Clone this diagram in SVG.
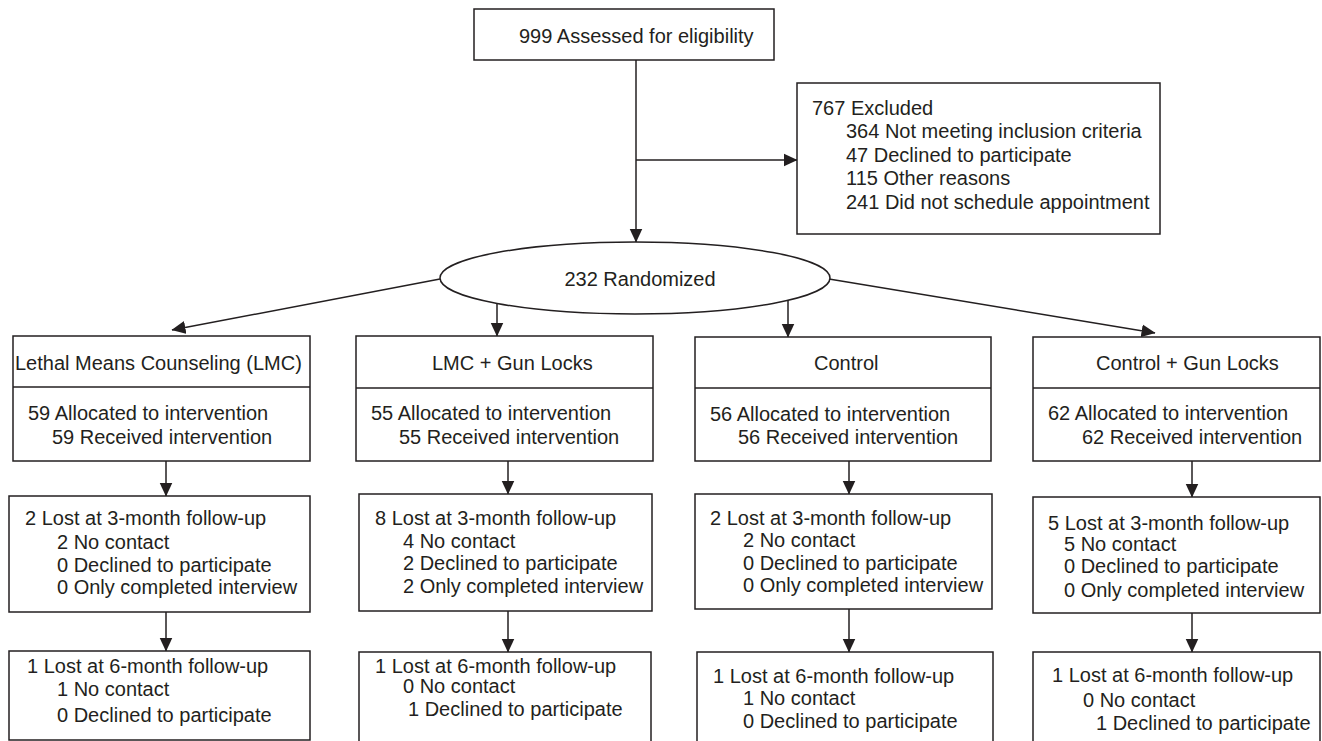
<svg xmlns="http://www.w3.org/2000/svg" width="1322" height="741" viewBox="0 0 1322 741">
<defs>
<style>
.b{fill:#fff;stroke:#231f20;stroke-width:1.5}
.c{fill:none;stroke:#231f20;stroke-width:1.5}
text{font-family:"Liberation Sans",Arial,sans-serif;font-size:20px;fill:#231f20}
.m{text-anchor:middle}
</style>
<marker id="ah" markerUnits="userSpaceOnUse" markerWidth="14" markerHeight="14" viewBox="0 0 14 14" refX="13.5" refY="7" orient="auto">
<path d="M0,0.5 L14,7 L0,13.5 z" fill="#231f20"/>
</marker>
</defs>
<rect width="1322" height="741" fill="#fff"/>
<g id="connectors">
<line class="c" x1="636" y1="60" x2="636" y2="242" marker-end="url(#ah)"/>
<line class="c" x1="636" y1="160" x2="797" y2="160" marker-end="url(#ah)"/>
<line class="c" x1="440" y1="279" x2="172" y2="330" marker-end="url(#ah)"/>
<line class="c" x1="497" y1="303" x2="497" y2="336" marker-end="url(#ah)"/>
<line class="c" x1="788" y1="300" x2="788" y2="337" marker-end="url(#ah)"/>
<line class="c" x1="829" y1="279" x2="1155" y2="333" marker-end="url(#ah)"/>
<line class="c" x1="166" y1="461" x2="166" y2="496" marker-end="url(#ah)"/>
<line class="c" x1="166" y1="612" x2="166" y2="651" marker-end="url(#ah)"/>
<line class="c" x1="508" y1="461" x2="508" y2="494" marker-end="url(#ah)"/>
<line class="c" x1="508" y1="611" x2="508" y2="652" marker-end="url(#ah)"/>
<line class="c" x1="849" y1="461" x2="849" y2="494" marker-end="url(#ah)"/>
<line class="c" x1="849" y1="609" x2="849" y2="652" marker-end="url(#ah)"/>
<line class="c" x1="1192" y1="461" x2="1192" y2="497" marker-end="url(#ah)"/>
<line class="c" x1="1192" y1="613" x2="1192" y2="652" marker-end="url(#ah)"/>
</g>
<g id="assessed">
<rect class="b" x="474" y="9" width="300" height="51"/>
<text x="519" y="43">999 Assessed for eligibility</text>
</g>
<g id="excluded">
<rect class="b" x="797" y="83" width="363" height="151"/>
<text x="812" y="115">767 Excluded</text>
<text x="846" y="138">364 Not meeting inclusion criteria</text>
<text x="846" y="162">47 Declined to participate</text>
<text x="846" y="185">115 Other reasons</text>
<text x="846" y="209">241 Did not schedule appointment</text>
</g>
<g id="randomized">
<ellipse class="b" cx="635" cy="278" rx="195" ry="36"/>
<text class="m" x="640" y="286">232 Randomized</text>
</g>
<g id="lmc">
<rect class="b" x="13" y="336" width="297" height="125"/>
<line class="c" x1="13" y1="387" x2="310" y2="387"/>
<text x="15" y="370">Lethal Means Counseling (LMC)</text>
<text x="28" y="420">59 Allocated to intervention</text>
<text x="52" y="444">59 Received intervention</text>
</g>
<g id="lmc-gun">
<rect class="b" x="356" y="336" width="297" height="125"/>
<line class="c" x1="356" y1="388" x2="653" y2="388"/>
<text x="432" y="370">LMC + Gun Locks</text>
<text x="371" y="420">55 Allocated to intervention</text>
<text x="399" y="444">55 Received intervention</text>
</g>
<g id="control">
<rect class="b" x="695" y="337" width="296" height="124"/>
<line class="c" x1="695" y1="388" x2="991" y2="388"/>
<text x="814" y="370">Control</text>
<text x="710" y="421">56 Allocated to intervention</text>
<text x="738" y="444">56 Received intervention</text>
</g>
<g id="control-gun">
<rect class="b" x="1033" y="337" width="287" height="124"/>
<line class="c" x1="1033" y1="388" x2="1320" y2="388"/>
<text x="1096" y="370">Control + Gun Locks</text>
<text x="1048" y="420">62 Allocated to intervention</text>
<text x="1082" y="444">62 Received intervention</text>
</g>
<g id="lmc-3m">
<rect class="b" x="9" y="496" width="301" height="116"/>
<text x="25" y="525">2 Lost at 3-month follow-up</text>
<text x="57" y="549">2 No contact</text>
<text x="57" y="572">0 Declined to participate</text>
<text x="57" y="594">0 Only completed interview</text>
</g>
<g id="lmc-gun-3m">
<rect class="b" x="359" y="494" width="293" height="117"/>
<text x="375" y="525">8 Lost at 3-month follow-up</text>
<text x="403" y="548">4 No contact</text>
<text x="403" y="570">2 Declined to participate</text>
<text x="403" y="593">2 Only completed interview</text>
</g>
<g id="control-3m">
<rect class="b" x="695" y="494" width="297" height="115"/>
<text x="710" y="525">2 Lost at 3-month follow-up</text>
<text x="743" y="547">2 No contact</text>
<text x="743" y="570">0 Declined to participate</text>
<text x="743" y="592">0 Only completed interview</text>
</g>
<g id="control-gun-3m">
<rect class="b" x="1033" y="497" width="287" height="116"/>
<text x="1048" y="530">5 Lost at 3-month follow-up</text>
<text x="1064" y="551">5 No contact</text>
<text x="1064" y="573">0 Declined to participate</text>
<text x="1064" y="597">0 Only completed interview</text>
</g>
<g id="lmc-6m">
<rect class="b" x="9" y="651" width="301" height="89"/>
<text x="27" y="673">1 Lost at 6-month follow-up</text>
<text x="57" y="696">1 No contact</text>
<text x="57" y="722">0 Declined to participate</text>
</g>
<g id="lmc-gun-6m">
<rect class="b" x="359" y="652" width="292" height="100"/>
<text x="375" y="673">1 Lost at 6-month follow-up</text>
<text x="403" y="693">0 No contact</text>
<text x="408" y="716">1 Declined to participate</text>
</g>
<g id="control-6m">
<rect class="b" x="697" y="652" width="296" height="100"/>
<text x="713" y="683">1 Lost at 6-month follow-up</text>
<text x="743" y="705">1 No contact</text>
<text x="743" y="728">0 Declined to participate</text>
</g>
<g id="control-gun-6m">
<rect class="b" x="1033" y="652" width="287" height="100"/>
<text x="1052" y="682">1 Lost at 6-month follow-up</text>
<text x="1083" y="707">0 No contact</text>
<text x="1096" y="730">1 Declined to participate</text>
</g>
</svg>
